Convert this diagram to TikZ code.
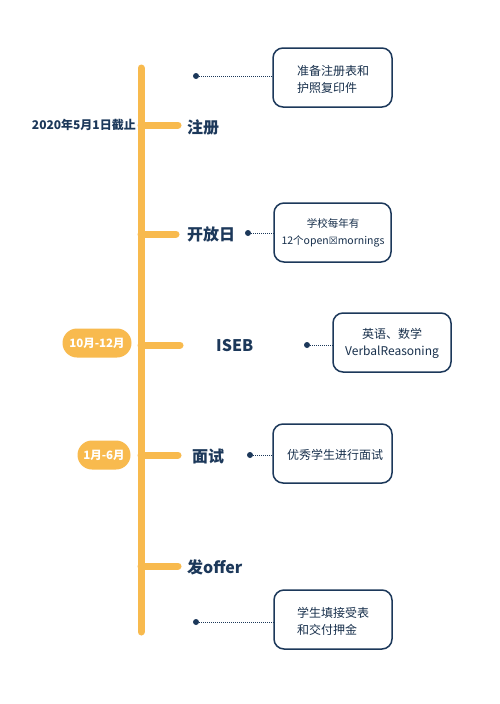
\documentclass[tikz,border=0pt]{standalone}
\usepackage{fontspec}
\newfontfamily\cjk{Noto Sans CJK SC}
\newfontfamily\dejavu{DejaVu Sans}
\definecolor{orng}{RGB}{248,186,78}
\definecolor{navy}{RGB}{28,56,90}
\begin{document}
\begin{tikzpicture}[x=1pt,y=-1pt,
  bar/.style={line width=7pt,orng,line cap=round},
  mainlbl/.style={anchor=west,inner sep=0pt,font=\cjk\bfseries\fontsize{16}{18}\selectfont,text=navy},
  sidelbl/.style={anchor=east,inner sep=0pt,font=\cjk\bfseries\fontsize{12}{13}\selectfont,text=navy},
  pill/.style={fill=orng,rounded corners=14.5pt,text=white,font=\cjk\bfseries\fontsize{11.5}{12}\selectfont,inner sep=0pt},
  infobox/.style={draw=navy,line width=1.5pt,rounded corners=10pt,fill=white,inner sep=0pt},
  boxtext/.style={inner sep=0pt,font=\cjk\fontsize{12}{17}\selectfont,text=navy!85!black},
  dotc/.style={circle,fill=navy,inner sep=0pt,minimum size=6pt},
  dots/.style={navy,line width=0.9pt,dash pattern=on 0.8pt off 1.2pt}
]
\useasboundingbox[fill=white] (0,0) rectangle (500,704);
% main bar
\coordinate (top) at (141,68);
\coordinate (bot) at (141,632);
\draw[bar] (top) -- (bot);
% branches
\coordinate (b1) at (141,125); \coordinate (e1) at (178,125);
\coordinate (b2) at (141,234); \coordinate (e2) at (176,234);
\coordinate (b3) at (141,345); \coordinate (e3) at (180,345);
\coordinate (b4) at (141,455); \coordinate (e4) at (178,455);
\coordinate (b5) at (141,566); \coordinate (e5) at (178,566);
\foreach \i in {1,...,5}{\draw[bar] (b\i) -- (e\i);}
% main labels
\node[mainlbl] (l1) at (187,127) {注册};
\node[mainlbl] (l2) at (187,234) {开放日};
\node[mainlbl] (l3) at (216,346) {ISEB};
\node[mainlbl] (l4) at (192,456) {面试};
\node[mainlbl] (l5) at (187,567) {发offer};
% side labels
\node[sidelbl] (s1) at (136,125) {2020年5月1日截止};
\node[pill,minimum width=69pt,minimum height=29pt] (p3) at (97,343) {10月-12月};
\node[pill,minimum width=53pt,minimum height=29pt] (p4) at (104,455) {1月-6月};
% boxes
\node[infobox,minimum width=119pt,minimum height=59pt] (x1) at (332.5,77.5) {};
\node[boxtext,align=left,anchor=west] (t1) at (297,79) {准备注册表和\\护照复印件};
\node[infobox,minimum width=117pt,minimum height=59pt] (x2) at (332.5,232.5) {};
\node[boxtext,align=center,font=\cjk\fontsize{10.5}{17}\selectfont] (t2) at (333,233) {学校每年有\\12个open{\dejavu\fontsize{10}{12}\selectfont ☒}mornings};
\node[infobox,minimum width=118pt,minimum height=59pt] (x3) at (392,342.5) {};
\node[boxtext,align=center] (t3) at (392,343) {英语、数学\\VerbalReasoning};
\node[infobox,minimum width=119pt,minimum height=59pt] (x4) at (332.5,453.5) {};
\node[boxtext,anchor=west] (t4) at (287,455) {优秀学生进行面试};
\node[infobox,minimum width=118pt,minimum height=59pt] (x5) at (333,619.5) {};
\node[boxtext,align=left,anchor=west] (t5) at (297,621) {学生填接受表\\和交付押金};
% dots and connectors
\node[dotc] (d1) at (196,76) {};
\node[dotc] (d2) at (248,233) {};
\node[dotc] (d3) at (307,345) {};
\node[dotc] (d4) at (250,455) {};
\node[dotc] (d5) at (196,622) {};
\draw[dots] (d1) -- (d1 -| x1.west);
\draw[dots] (d2) -- (d2 -| x2.west);
\draw[dots] (d3) -- (d3 -| x3.west);
\draw[dots] (d4) -- (d4 -| x4.west);
\draw[dots] (d5) -- (d5 -| x5.west);
\end{tikzpicture}
\end{document}
